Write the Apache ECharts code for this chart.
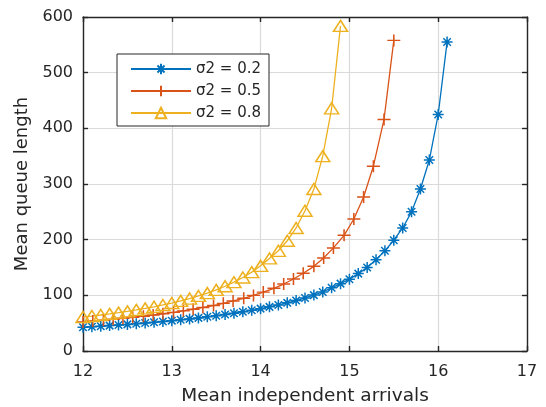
<!DOCTYPE html>
<html>
<head>
<meta charset="utf-8">
<script src="https://cdn.jsdelivr.net/npm/echarts@6/dist/echarts.min.js"></script>
<style>
  html, body { margin: 0; padding: 0; background: #fff; }
  #chart { width: 546px; height: 407px; }
</style>
</head>
<body>
<div id="chart"></div>
<script>
// Mean arrival rate (x) and resulting mean queue length (y) for three variances
const arrivalsLow = [12, 12.1, 12.2, 12.3, 12.4, 12.5, 12.6, 12.7, 12.8, 12.9,
  13, 13.1, 13.2, 13.3, 13.4, 13.5, 13.6, 13.7, 13.8, 13.9,
  14, 14.1, 14.2, 14.3, 14.4, 14.5, 14.6, 14.7, 14.8, 14.9,
  15, 15.1, 15.2, 15.3, 15.4, 15.5, 15.6, 15.7, 15.8, 15.9, 16, 16.1];
const queueLow = [42.6, 43.6, 44.6, 45.6, 46.7, 47.8, 49.0, 50.3, 51.6, 53.0,
  54.5, 56.1, 57.7, 59.5, 61.4, 63.4, 65.6, 67.9, 70.4, 73.1,
  76.1, 79.3, 82.7, 86.5, 90.7, 95.3, 100.4, 106.0, 113.5, 121,
  129, 139, 150, 164, 180, 199, 221, 250, 291, 343, 425, 555];

const arrivalsMid = [12, 12.11, 12.23, 12.34, 12.45, 12.56, 12.68, 12.79, 12.9, 13.02,
  13.13, 13.24, 13.35, 13.47, 13.58, 13.69, 13.81, 13.92, 14.03, 14.15,
  14.26, 14.37, 14.48, 14.6, 14.71, 14.82, 14.94, 15.05, 15.16, 15.27, 15.39, 15.5];
const queueMid = [52.3, 53.8, 55.3, 56.9, 58.7, 60.5, 62.5, 64.6, 66.9, 69.4,
  72.1, 75.0, 78.2, 81.7, 85.6, 89.9, 94.6, 99.9, 105.8, 112.6,
  120.3, 129.3, 139.7, 152.1, 167.0, 185.2, 207.8, 237.2, 276.6, 332.0, 416.0, 558.0];

const arrivalsHigh = [12, 12.1, 12.2, 12.3, 12.4, 12.5, 12.6, 12.7, 12.8, 12.9,
  13, 13.1, 13.2, 13.3, 13.4, 13.5, 13.6, 13.7, 13.8, 13.9,
  14, 14.1, 14.2, 14.3, 14.4, 14.5, 14.6, 14.7, 14.8, 14.9];
const queueHigh = [61.0, 62.8, 64.7, 66.7, 68.9, 71.2, 73.8, 76.5, 79.4, 82.7,
  86.2, 90.0, 94.2, 98.9, 104.0, 109.8, 116.3, 123.6, 132.0, 141.7,
  153.0, 166.3, 180, 198, 221, 252, 291, 350, 436, 584];

const seriesNames = ['σ2 = 0.2', 'σ2 = 0.5', 'σ2 = 0.8'];
const xTicks = { min: 12, max: 17, step: 1 };
const yTicks = { min: 0, max: 600, step: 100 };

const FONT = 'DejaVu Sans';
const INK = '#262626';
const GRID_C = '#dadada';
const BLUE = '#0072BD', RED = '#D95319', YELLOW = '#EDB120';

// stroked marker outlines
const ASTERISK = 'path://M0,5L10,5M5,0L5,10M1.6,1.6L8.4,8.4M1.6,8.4L8.4,1.6';
const PLUS = 'path://M0,5L10,5M5,0L5,10';

function pairs(xs, ys) { return xs.map((x, i) => [x, ys[i]]); }

const axisLine = { show: true, onZero: false, lineStyle: { color: INK, width: 1.4 } };
const axisTick = { show: true, inside: true, length: 5, lineStyle: { color: INK, width: 1.4 } };

const chart = echarts.init(document.getElementById('chart'), null, { renderer: 'canvas' });
chart.setOption({
  animation: false,
  backgroundColor: '#fff',
  grid: { left: 83, right: 19, top: 17, bottom: 56, containLabel: false, outerBoundsMode: 'none' },
  xAxis: [{
    type: 'value', min: xTicks.min, max: xTicks.max, interval: xTicks.step, position: 'bottom',
    axisLine: axisLine, axisTick: axisTick,
    axisLabel: { color: INK, fontFamily: FONT, fontSize: 16, margin: 13 },
    splitLine: { show: true, lineStyle: { color: GRID_C, width: 1.2 } },
    name: 'Mean independent arrivals', nameLocation: 'middle', nameGap: 36,
    nameTextStyle: { color: INK, fontFamily: FONT, fontSize: 18.5 }
  }, {
    type: 'value', min: xTicks.min, max: xTicks.max, interval: xTicks.step, position: 'top',
    axisLine: axisLine, axisTick: axisTick,
    axisLabel: { show: false }, splitLine: { show: false }
  }],
  yAxis: [{
    type: 'value', min: yTicks.min, max: yTicks.max, interval: yTicks.step, position: 'left',
    axisLine: axisLine, axisTick: axisTick,
    axisLabel: { color: INK, fontFamily: FONT, fontSize: 16, margin: 10 },
    splitLine: { show: true, lineStyle: { color: GRID_C, width: 1.2 } },
    name: 'Mean queue length', nameLocation: 'middle', nameGap: 50,
    nameTextStyle: { color: INK, fontFamily: FONT, fontSize: 18 }
  }, {
    type: 'value', min: yTicks.min, max: yTicks.max, interval: yTicks.step, position: 'right',
    axisLine: axisLine, axisTick: axisTick,
    axisLabel: { show: false }, splitLine: { show: false }
  }],
  legend: {
    orient: 'vertical', left: 117, top: 54,
    itemWidth: 60, itemHeight: 13, itemGap: 4,
    padding: [6, 8, 4, 13],
    borderColor: INK, borderWidth: 1, backgroundColor: '#fff',
    textStyle: { color: INK, fontFamily: FONT, fontSize: 15, lineHeight: 18 },
    data: seriesNames
  },
  series: [{
    name: seriesNames[0], type: 'line', data: pairs(arrivalsLow, queueLow),
    symbol: ASTERISK, symbolSize: [11, 11], showAllSymbol: true,
    itemStyle: { color: BLUE, borderColor: BLUE, borderWidth: 1.5 },
    lineStyle: { color: BLUE, width: 1.3 }
  }, {
    name: seriesNames[1], type: 'line', data: pairs(arrivalsMid, queueMid),
    symbol: PLUS, symbolSize: [13, 12], showAllSymbol: true,
    itemStyle: { color: RED, borderColor: RED, borderWidth: 1.5 },
    lineStyle: { color: RED, width: 1.3 }
  }, {
    name: seriesNames[2], type: 'line', data: pairs(arrivalsHigh, queueHigh),
    symbol: 'triangle', symbolSize: [14, 11], showAllSymbol: true,
    itemStyle: { color: 'rgba(0,0,0,0)', borderColor: YELLOW, borderWidth: 1.5 },
    lineStyle: { color: YELLOW, width: 1.3 }
  }]
});
</script>
</body>
</html>
